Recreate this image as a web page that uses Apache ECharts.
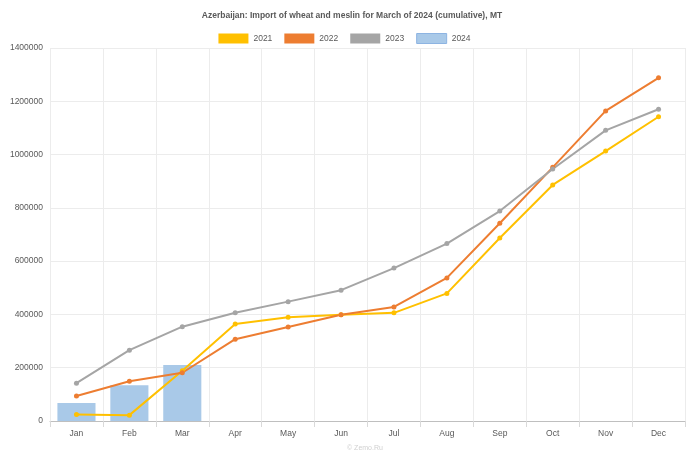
<!DOCTYPE html>
<html lang="en" style="height: 100%">
<head>
  <meta charset="utf-8">
</head>
<body style="height: 100%; margin: 0; background: #fff">
  <div id="container" style="height: 100%"></div>
  <script src="https://cdn.jsdelivr.net/npm/echarts@6/dist/echarts.min.js"></script>
  <script>
    const months = ['Jan', 'Feb', 'Mar', 'Apr', 'May', 'Jun', 'Jul', 'Aug', 'Sep', 'Oct', 'Nov', 'Dec'];
    const y2021 = [24000, 22000, 189000, 364000, 389000, 399000, 406000, 479000, 687000, 886000, 1013000, 1142000];
    const y2022 = [94000, 149000, 181000, 307000, 353000, 399000, 428000, 537000, 742000, 952000, 1164000, 1288000];
    const y2023 = [142000, 266000, 354000, 406000, 448000, 491000, 574000, 666000, 788000, 946000, 1091000, 1170000];
    const y2024 = [68000, 134000, 210000];

    const chart = echarts.init(document.getElementById('container'), null, { renderer: 'canvas' });

    const lineSeries = (name, data, color) => ({
      name,
      type: 'line',
      data,
      symbol: 'circle',
      symbolSize: 5,
      lineStyle: { width: 2, color },
      itemStyle: { color },
      z: 3
    });

    const option = {
      animation: false,
      textStyle: { fontFamily: 'Arial, "Liberation Sans", sans-serif' },
      title: {
        text: 'Azerbaijan: Import of wheat and meslin for March of 2024 (cumulative), MT',
        left: 347,
        textAlign: 'center',
        top: 6,
        textStyle: { fontSize: 8.5, fontWeight: 'bold', color: '#595959' }
      },
      legend: {
        top: 28,
        left: 'center',
        icon: 'rect',
        itemWidth: 30,
        itemHeight: 10,
        itemGap: 12,
        textStyle: { fontSize: 8.5, color: '#595959' },
        data: [
          { name: '2021', itemStyle: { color: '#FFC000' } },
          { name: '2022', itemStyle: { color: '#ED7D31' } },
          { name: '2023', itemStyle: { color: '#A5A5A5' } },
          { name: '2024', itemStyle: { color: '#A9C9E8', borderColor: '#8DB4E2', borderWidth: 1 } }
        ]
      },
      grid: { left: 50, right: 4, top: 48, bottom: 31 },
      xAxis: {
        type: 'category',
        data: months,
        axisLine: { lineStyle: { color: '#bfbfbf' } },
        axisTick: { show: true, length: 6, lineStyle: { color: '#d9d9d9' } },
        axisLabel: { fontSize: 8.5, color: '#595959', margin: 8 },
        splitLine: { show: true, lineStyle: { color: '#ececec' } }
      },
      yAxis: {
        type: 'value',
        min: 0,
        max: 1400000,
        interval: 200000,
        axisLine: { show: false },
        axisTick: { show: false },
        axisLabel: { fontSize: 8.5, color: '#595959', margin: 7, formatter: v => String(v) },
        splitLine: { lineStyle: { color: '#ececec' } }
      },
      series: [
        lineSeries('2021', y2021, '#FFC000'),
        lineSeries('2022', y2022, '#ED7D31'),
        lineSeries('2023', y2023, '#A5A5A5'),
        {
          name: '2024',
          type: 'bar',
          data: y2024,
          barCategoryGap: '28%',
          itemStyle: { color: '#A9C9E8' },
          z: 2
        }
      ],
      graphic: [{
        type: 'text',
        left: 347,
        top: 445,
        style: { text: '© Zemo.Ru', fontSize: 7, fill: '#d0d0d0', fontFamily: 'Arial, sans-serif' }
      }]
    };

    chart.setOption(option);
    window.addEventListener('resize', chart.resize);
  </script>
</body>
</html>
